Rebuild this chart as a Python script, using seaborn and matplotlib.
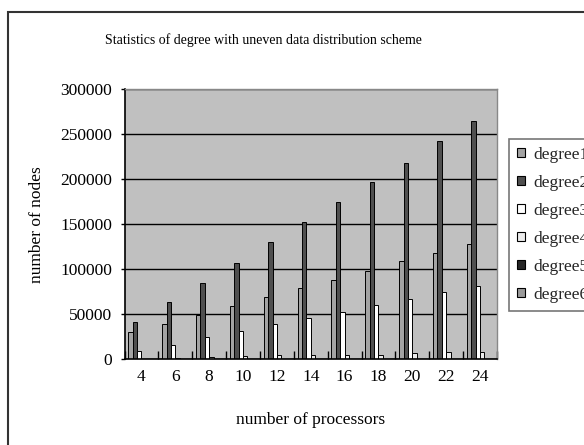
import numpy as np
import pandas as pd
import matplotlib
matplotlib.use("Agg")
import matplotlib.pyplot as plt
from matplotlib.patches import Patch, Rectangle
from matplotlib.ticker import FuncFormatter, FixedLocator
import seaborn as sns

# number of processors on the x axis
processors = [4, 6, 8, 10, 12, 14, 16, 18, 20, 22, 24]

# number of nodes for each degree
degree1 = [30000, 39000, 49000, 59000, 68500, 78500, 87500, 97500, 108500, 117500, 127500]
degree2 = [41000, 63500, 85000, 107000, 129500, 152000, 174000, 196500, 218000, 242000, 265000]
degree3 = [9000, 16000, 25000, 31500, 39000, 46000, 52000, 59500, 67000, 74000, 81000]
degree4 = [500, 1500, 2000, 3000, 4000, 4000, 5000, 5000, 6500, 7500, 7500]
degree5 = [0, 0, 0, 0, 0, 0, 0, 0, 0, 0, 0]
degree6 = [0, 0, 0, 0, 0, 0, 0, 0, 0, 0, 0]

series_names = ["degree1", "degree2", "degree3", "degree4", "degree5", "degree6"]
series_values = [degree1, degree2, degree3, degree4, degree5, degree6]
y_ticks = [0, 50000, 100000, 150000, 200000, 250000, 300000]

colors = ["#a3a3a3", "#4f4f4f", "#ffffff", "#ececec", "#262626", "#9a9a9a"]

df = pd.DataFrame(
    [(p, name, v) for name, vals in zip(series_names, series_values)
     for p, v in zip(processors, vals)],
    columns=["processors", "degree", "nodes"],
)

sns.set_theme(style="white")
plt.rcParams["font.family"] = ["Liberation Serif", "DejaVu Serif"]

W, H = 584, 445
fig = plt.figure(figsize=(W / 100, H / 100), dpi=100)
fig.patch.set_facecolor("white")

# plot area in pixel coordinates
left, right, top, bottom = 124.5, 497, 89, 359
ax = fig.add_axes([left / W, 1 - bottom / H, (right - left) / W, (bottom - top) / H])
ax.set_facecolor("#c0c0c0")

sns.barplot(
    data=df, x="processors", y="nodes", hue="degree",
    hue_order=series_names, palette=colors,
    edgecolor="black", linewidth=0.7, width=0.776, gap=0,
    errorbar=None, legend=False, ax=ax,
)

ax.set_xlim(-0.5, len(processors) - 0.5)
ax.set_ylim(0, 300000)
ax.yaxis.set_major_locator(FixedLocator(y_ticks))
ax.yaxis.set_major_formatter(FuncFormatter(lambda v, p: f"{int(v)}"))
ax.yaxis.grid(True, color="black", linewidth=1.0)
ax.set_axisbelow(True)

# category boundary ticks pointing up into the plot
ax.set_xticks(np.arange(len(processors) + 1) - 0.5, minor=True)
ax.tick_params(axis="x", which="minor", direction="in", length=6, width=1, color="black", bottom=True)
ax.tick_params(axis="x", which="major", length=0, pad=7, labelsize=12.5, labelcolor="black")
ax.tick_params(axis="y", which="major", direction="out", length=3, width=1, color="black",
               left=True, pad=6, labelsize=12.5, labelcolor="black")

for side in ["left", "bottom"]:
    ax.spines[side].set_color("black")
    ax.spines[side].set_linewidth(1.2)
for side in ["top", "right"]:
    ax.spines[side].set_color("#888888")
    ax.spines[side].set_linewidth(1.0)

ax.set_xlabel("number of processors", fontsize=12.5, color="black", va="center")
ax.xaxis.set_label_coords(0.5, (bottom - 420) / (bottom - top))
ax.set_ylabel("number of nodes", fontsize=12.5, color="black", va="center", ha="center")
ax.yaxis.set_label_coords((37 - left) / (right - left), (bottom - 225) / (bottom - top))

fig.text(263 / W, 1 - 40 / H, "Statistics of degree with uneven data distribution scheme",
         ha="center", va="center", fontsize=10, color="black")

handles = [Patch(facecolor=c, edgecolor="black", linewidth=0.8) for c in colors]
leg = fig.legend(
    handles, series_names, loc="upper left", bbox_to_anchor=(509 / W, 1 - 139 / H),
    bbox_transform=fig.transFigure, frameon=True, fancybox=False, fontsize=12.5,
    handlelength=0.45, handleheight=0.45, handletextpad=0.5,
    labelspacing=0.69, borderpad=0.45, borderaxespad=0,
)
leg.get_frame().set_edgecolor("#555555")
leg.get_frame().set_linewidth(1.2)
leg.get_frame().set_facecolor("white")

# outer chart frame
fig.add_artist(Rectangle((8 / W, -0.1), 1.0, 1 - 12 / H + 0.1, transform=fig.transFigure,
                         fill=False, edgecolor="#333333", linewidth=1.5))

fig.savefig("out.png", dpi=100)
